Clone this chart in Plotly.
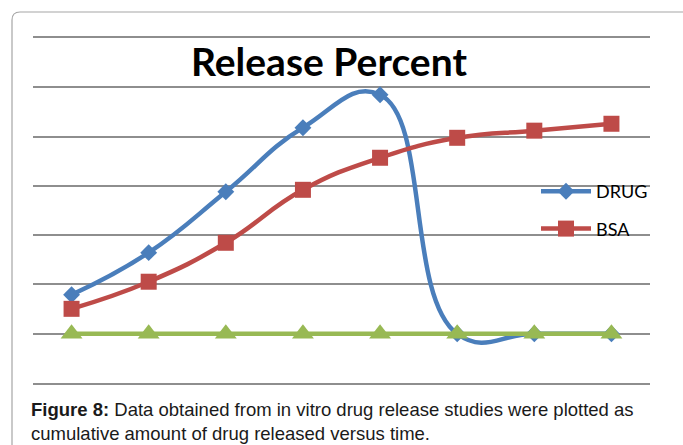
import plotly.graph_objects as go

# Time points (categories) and cumulative release values
time_points = [1, 2, 3, 4, 5, 6, 7, 8]
drug_release = [15.8, 32.9, 57.6, 83.6, 97.0, 0, 0, 0]
bsa_release = [10.1, 21.1, 36.9, 58.4, 71.4, 79.5, 82.4, 85.2]
baseline = [0, 0, 0, 0, 0, 0, 0, 0]

BLUE = "#4A7EBB"
RED = "#BE4B48"
GREEN = "#98B954"
GRID = "#8E8E8E"

W, H = 683, 445
ML, MR, MT, MB = 33, 33, 38, 62
pw, ph = W - ML - MR, H - MT - MB


def px_x(x):
    return (x - ML) / pw


def px_y(y):
    return (H - MB - y) / ph


fig = go.Figure()

fig.add_trace(go.Scatter(
    x=time_points, y=drug_release, name="DRUG", mode="lines+markers",
    line=dict(color=BLUE, width=4.5, shape="spline", smoothing=1.3),
    marker=dict(symbol="diamond", size=13, color=BLUE),
    legendgroup="a",
))
fig.add_trace(go.Scatter(
    x=time_points, y=bsa_release, name="BSA", mode="lines+markers",
    line=dict(color=RED, width=4.5, shape="spline", smoothing=1.3),
    marker=dict(symbol="square", size=16, color=RED),
    legendgroup="b",
))
fig.add_trace(go.Scatter(
    x=time_points, y=baseline, name="", mode="lines+markers",
    line=dict(color=GREEN, width=4.5),
    marker=dict(symbol="triangle-up", size=19, color=GREEN),
    showlegend=False,
))

# Chart frame with a rounded top-left corner, running off the page edges
r = 8
fig.add_shape(
    type="path", xref="paper", yref="paper",
    path=(f"M {px_x(12)},{px_y(460)} L {px_x(12)},{px_y(12 + r)} "
          f"Q {px_x(12)},{px_y(12)} {px_x(12 + r)},{px_y(12)} L {px_x(700)},{px_y(12)}"),
    line=dict(color="#A6A6A6", width=1.2),
)

fig.add_annotation(
    text="<b>Release Percent</b>", xref="paper", yref="paper",
    x=px_x(329), y=px_y(61), xanchor="center", yanchor="middle",
    showarrow=False, font=dict(family="Lato", size=39, color="#000000"),
)

fig.add_annotation(
    text=("<b>Figure 8:</b> Data obtained from in vitro drug release studies were plotted as"
          "<br>cumulative amount of drug released versus time."),
    xref="paper", yref="paper", x=px_x(29), y=px_y(397),
    xanchor="left", yanchor="top", align="left", showarrow=False,
    font=dict(family="Liberation Sans", size=18.5, color="#1a1a1a"),
)

fig.update_layout(
    width=W, height=H,
    margin=dict(l=ML, r=MR, t=MT, b=MB),
    paper_bgcolor="white", plot_bgcolor="white",
    showlegend=True,
    legend=dict(
        x=px_x(536), y=px_y(173), xanchor="left", yanchor="top",
        bgcolor="rgba(0,0,0,0)", itemwidth=50, tracegroupgap=11,
        font=dict(family="Lato", size=18, color="#000000"),
    ),
    xaxis=dict(
        range=[0.5, 8.5], showgrid=False, zeroline=False,
        showticklabels=False, ticks="",
        showline=True, mirror=True, linecolor=GRID, linewidth=1.5,
    ),
    yaxis=dict(
        range=[-20, 120], dtick=20, showgrid=True, gridcolor=GRID, gridwidth=1.5,
        zeroline=False, showticklabels=False, ticks="", showline=False,
    ),
)

fig.write_html("out.html")
